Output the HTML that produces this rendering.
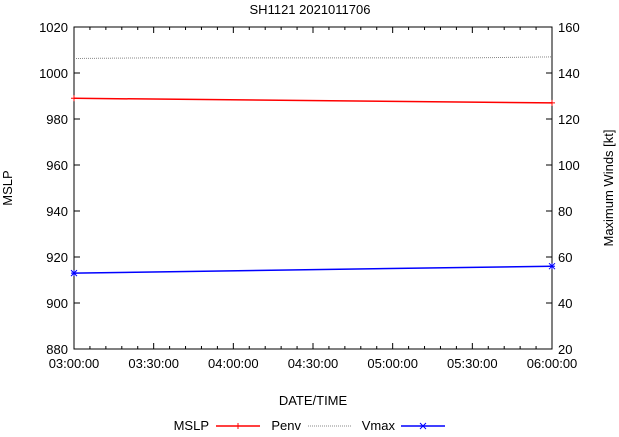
<!DOCTYPE html>
<html><head><meta charset="utf-8"><style>
body{margin:0;background:#fff}
svg{font-family:"Liberation Sans",sans-serif;font-size:13px}
</style></head><body>
<svg id="c" width="619" height="432"></svg>
<script>
const timeLabels=["03:00:00","03:30:00","04:00:00","04:30:00","05:00:00","05:30:00","06:00:00"];
const leftTicks=[880,900,920,940,960,980,1000,1020];
const rightTicks=[20,40,60,80,100,120,140,160];
const tHours=[0,3];
const mslp=[989,987];
const penvT=[0,0.5,2.5,3];
const penv=[1006.3,1006.6,1006.6,1007];
const vmax=[53,56];
const X0=74,X1=552,Y0=349,Y1=27;
const svg=document.getElementById('c');const NS='http://www.w3.org/2000/svg';
const x=h=>X0+h/3*(X1-X0);
const yl=v=>Y0-(v-880)/140*(Y0-Y1);
const yr=v=>Y0-(v-20)/140*(Y0-Y1);
function mk(t,a,txt){const e=document.createElementNS(NS,t);for(const k in a)e.setAttribute(k,a[k]);if(txt!==undefined)e.textContent=txt;svg.appendChild(e);return e;}
let e;
e=mk('rect',{x:X0,y:Y1,width:X1-X0,height:Y0-Y1,fill:'none',stroke:'#000','stroke-width':1});

leftTicks.forEach(v=>{mk('line',{x1:X0,x2:X0+6,y1:yl(v),y2:yl(v),stroke:'#000'});
 e=mk('text',{x:X0-6,y:yl(v)+5,'text-anchor':'end'},v);});
rightTicks.forEach(v=>{mk('line',{x1:X1-6,x2:X1,y1:yr(v),y2:yr(v),stroke:'#000'});
 e=mk('text',{x:X1+6,y:yr(v)+5,'text-anchor':'start'},v);});
timeLabels.forEach((l,i)=>{const xx=x(i*0.5);
 mk('line',{x1:xx,x2:xx,y1:Y0,y2:Y0-6,stroke:'#000'});mk('line',{x1:xx,x2:xx,y1:Y1,y2:Y1+6,stroke:'#000'});
 e=mk('text',{x:xx,y:Y0+19,'text-anchor':'middle'},l);
 if(i<6)for(let j=1;j<5;j++){const mx=x(i*0.5+j*0.1);mk('line',{x1:mx,x2:mx,y1:Y0,y2:Y0-3,stroke:'#000'});mk('line',{x1:mx,x2:mx,y1:Y1,y2:Y1+3,stroke:'#000'});}});
e=mk('text',{x:310,y:14,'text-anchor':'middle'},'SH1121 2021011706');
e=mk('text',{x:313,y:405,'text-anchor':'middle'},'DATE/TIME');
e=mk('text',{x:12,y:188,'text-anchor':'middle',transform:'rotate(-90 12 188)'},'MSLP');
e=mk('text',{x:613,y:188,'text-anchor':'middle',transform:'rotate(-90 613 188)'},'Maximum Winds [kt]');
e=mk('polyline',{points:penvT.map((t,i)=>x(t)+','+yl(penv[i])).join(' '),fill:'none',stroke:'#888','stroke-dasharray':'1,1'});

e=mk('polyline',{points:tHours.map((t,i)=>x(t)+','+yl(mslp[i])).join(' '),fill:'none',stroke:'#f00','stroke-width':1.5});

tHours.forEach((t,i)=>{const a=x(t),b=yl(mslp[i]);mk('path',{d:`M${a-3},${b}h6M${a},${b-3}v6`,stroke:'#f00'});});
e=mk('polyline',{points:tHours.map((t,i)=>x(t)+','+yr(vmax[i])).join(' '),fill:'none',stroke:'#00f','stroke-width':1.5});

tHours.forEach((t,i)=>{const a=x(t),b=yr(vmax[i]);mk('path',{d:`M${a-3},${b-3}l6,6M${a-3},${b+3}l6,-6M${a-3},${b}h6M${a},${b-3}v6`,stroke:'#00f'});});
e=mk('text',{x:209,y:430,'text-anchor':'end'},'MSLP');
mk('line',{x1:216,x2:260,y1:426,y2:426,stroke:'#f00','stroke-width':1.5});mk('path',{d:'M238,423v6M235,426h6',stroke:'#f00'});
e=mk('text',{x:301,y:430,'text-anchor':'end'},'Penv');
mk('line',{x1:308,x2:352,y1:426,y2:426,stroke:'#888','stroke-dasharray':'1,1'});
e=mk('text',{x:395,y:430,'text-anchor':'end'},'Vmax');
mk('line',{x1:401,x2:445,y1:426,y2:426,stroke:'#00f','stroke-width':1.5});mk('path',{d:'M420,423l6,6M420,429l6,-6',stroke:'#00f'});
</script>
</body></html>
